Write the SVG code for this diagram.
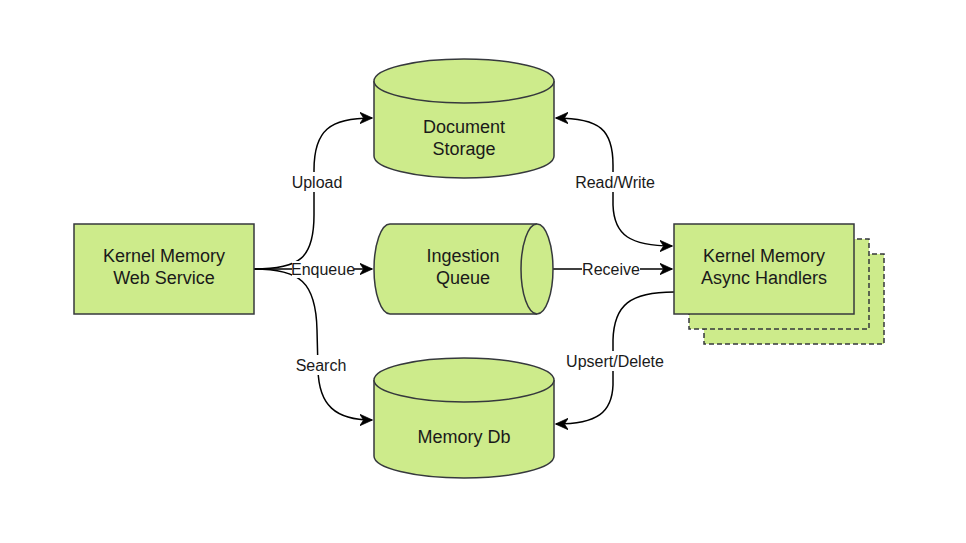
<svg xmlns="http://www.w3.org/2000/svg" width="966" height="543" viewBox="0 0 966 543">
<defs>
<style>
.shape{fill:#cdeb8b;stroke:#36393d;stroke-width:1.5}
.dash{fill:#cdeb8b;stroke:#36393d;stroke-width:1.5;stroke-dasharray:5 3}
.nt{font-family:"Liberation Sans",Arial,sans-serif;font-size:18px;fill:#1a1a1a;text-anchor:middle}
.et{font-family:"Liberation Sans",Arial,sans-serif;font-size:16px;fill:#1a1a1a;text-anchor:middle}
.edge{fill:none;stroke:#000;stroke-width:1.5}
.lbg{fill:#fff}
</style>
<marker id="arr" viewBox="0 0 10 10" markerUnits="userSpaceOnUse" markerWidth="13" markerHeight="13" refX="9.5" refY="5" orient="auto-start-reverse">
<path d="M0,0.5 L10,5 L0,9.5 L3,5 z" fill="#000" stroke="#000" stroke-width="0.5"/>
</marker>
</defs>
<rect width="966" height="543" fill="#fff"/>

<g id="connectors">
<path class="edge" d="M254,269 C300,269 314,258 314,215 L314,170 C314,130 330,118 372,118" marker-end="url(#arr)"/>
<path class="edge" d="M254,269 L372,269" marker-end="url(#arr)"/>
<path class="edge" d="M254,269 C300,269 316,282 317,330 L318,370 C319,405 335,420 372,420" marker-end="url(#arr)"/>
<path class="edge" d="M556,118 C600,118 613,130 613,165 L613,205 C614,235 630,246 672,246" marker-start="url(#arr)" marker-end="url(#arr)"/>
<path class="edge" d="M553,269 L672,269" marker-end="url(#arr)"/>
<path class="edge" d="M674,292 C630,292 614,305 613,340 L613,385 C612,412 598,424 556,424" marker-end="url(#arr)"/>
<g id="edge-labels">
<rect class="lbg" x="289" y="172" width="56" height="20"/>
<text class="et" x="317" y="188">Upload</text>
<rect class="lbg" x="292" y="261" width="62" height="17"/>
<text class="et" x="323" y="275">Enqueue</text>
<rect class="lbg" x="293" y="355" width="56" height="20"/>
<text class="et" x="321" y="371">Search</text>
<rect class="lbg" x="574" y="172" width="83" height="20"/>
<text class="et" x="615" y="188">Read/Write</text>
<rect class="lbg" x="582" y="261" width="58" height="17"/>
<text class="et" x="611" y="275">Receive</text>
<rect class="lbg" x="563" y="351" width="104" height="20"/>
<text class="et" x="615" y="367">Upsert/Delete</text>
</g>
</g>

<g id="web-service">
<rect class="shape" x="74" y="224" width="180" height="90"/>
<text class="nt" x="164" y="262">Kernel Memory</text>
<text class="nt" x="164" y="284">Web Service</text>
</g>

<g id="document-storage">
<path class="shape" d="M374,81 A90,22 0 0 1 554,81 L554,156 A90,22 0 0 1 374,156 Z"/>
<path class="shape" d="M374,81 A90,22 0 0 0 554,81" fill="none"/>
<text class="nt" x="464" y="133">Document</text>
<text class="nt" x="464" y="155">Storage</text>
</g>

<g id="ingestion-queue">
<path class="shape" d="M390,224 L537,224 A16,45 0 0 1 537,314 L390,314 A16,45 0 0 1 390,224 Z"/>
<path class="shape" d="M537,224 A16,45 0 0 0 537,314" fill="none"/>
<text class="nt" x="463" y="262">Ingestion</text>
<text class="nt" x="463" y="284">Queue</text>
</g>

<g id="memory-db">
<path class="shape" d="M374,380 A90,22 0 0 1 554,380 L554,456 A90,22 0 0 1 374,456 Z"/>
<path class="shape" d="M374,380 A90,22 0 0 0 554,380" fill="none"/>
<text class="nt" x="464" y="443">Memory Db</text>
</g>

<g id="async-handlers">
<rect class="dash" x="704" y="254" width="180" height="90"/>
<rect class="dash" x="689" y="239" width="180" height="90"/>
<rect class="shape" x="674" y="224" width="180" height="90"/>
<text class="nt" x="764" y="262">Kernel Memory</text>
<text class="nt" x="764" y="284">Async Handlers</text>
</g>
</svg>
